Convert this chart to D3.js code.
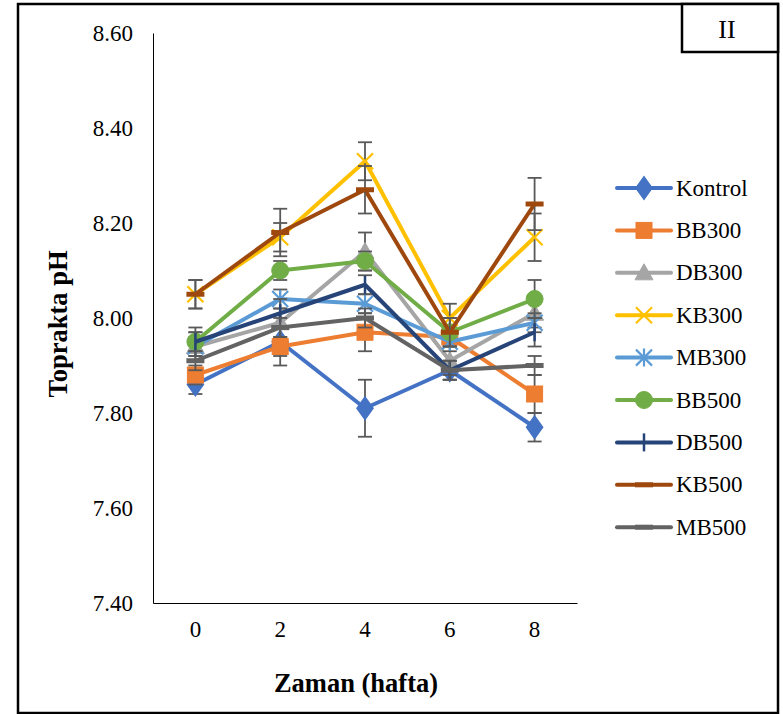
<!DOCTYPE html>
<html>
<head>
<meta charset="utf-8">
<script src="https://cdn.jsdelivr.net/npm/d3@7"></script>
<style>
  html, body { margin: 0; padding: 0; background: #fff; }
  svg { display: block; font-family: "Liberation Serif", "Times New Roman", serif; }
</style>
</head>
<body>
<svg id="chart" width="783" height="714"></svg>
<script>
// ---- Data ----
const categories = ["0", "2", "4", "6", "8"];
const yTicks = [7.4, 7.6, 7.8, 8.0, 8.2, 8.4, 8.6];
const seriesNames = ["Kontrol", "BB300", "DB300", "KB300", "MB300", "BB500", "DB500", "KB500", "MB500"];
const kontrol = [7.86, 7.95, 7.81, 7.89, 7.77];
const bb300   = [7.88, 7.94, 7.97, 7.96, 7.84];
const db300   = [7.94, 7.99, 8.14, 7.91, 8.01];
const kb300   = [8.05, 8.17, 8.33, 8.00, 8.17];
const mb300   = [7.94, 8.04, 8.03, 7.95, 7.99];
const bb500   = [7.95, 8.10, 8.12, 7.97, 8.04];
const db500   = [7.95, 8.01, 8.07, 7.89, 7.97];
const kb500   = [8.05, 8.18, 8.27, 7.97, 8.24];
const mb500   = [7.91, 7.98, 8.00, 7.89, 7.90];
const errKontrol = [0.02, 0.03, 0.06, 0.02, 0.03];
const errBB300   = [0.02, 0.04, 0.04, 0.02, 0.04];
const errDB300   = [0.03, 0.03, 0.04, 0.03, 0.03];
const errKB300   = [0.03, 0.03, 0.04, 0.03, 0.05];
const errMB300   = [0.02, 0.02, 0.02, 0.02, 0.02];
const errBB500   = [0.02, 0.02, 0.02, 0.03, 0.04];
const errDB500   = [0.03, 0.03, 0.02, 0.02, 0.03];
const errKB500   = [0.03, 0.05, 0.05, 0.03, 0.055];
const errMB500   = [0.02, 0.02, 0.02, 0.02, 0.02];

const seriesValues = [kontrol, bb300, db300, kb300, mb300, bb500, db500, kb500, mb500];
const seriesErrors = [errKontrol, errBB300, errDB300, errKB300, errMB300, errBB500, errDB500, errKB500, errMB500];
const colors = ["#4472C4", "#ED7D31", "#A5A5A5", "#FFC000", "#5B9BD5", "#70AD47", "#264478", "#9E480E", "#636363"];
const markers = ["diamond", "square", "triangle", "x", "star", "circle", "plus", "dash", "dash"];

const series = seriesNames.map((name, i) => ({
  name, color: colors[i], marker: markers[i],
  points: seriesValues[i].map((v, j) => ({ cat: categories[j], v, e: seriesErrors[i][j] }))
}));

// ---- Layout ----
const svg = d3.select("#chart");
const plot = { left: 153, right: 577, top: 33, bottom: 603 };

const x = d3.scaleBand().domain(categories).range([plot.left, plot.right]);
const y = d3.scaleLinear().domain([7.4, 8.6]).range([plot.bottom, plot.top]);
const cx = c => x(c) + x.bandwidth() / 2;

// Outer frame
svg.append("rect").attr("x", 18).attr("y", 4).attr("width", 760).attr("height", 709)
  .attr("fill", "none").attr("stroke", "#000").attr("stroke-width", 2.5);
// "II" box
svg.append("rect").attr("x", 682).attr("y", 4).attr("width", 96).attr("height", 48)
  .attr("fill", "#fff").attr("stroke", "#000").attr("stroke-width", 2.5);
svg.append("text").attr("x", 727).attr("y", 29).attr("text-anchor", "middle")
  .attr("dominant-baseline", "central").attr("font-size", 26).text("II");

// Axes
const yAxis = d3.axisLeft(y).tickValues(yTicks).tickFormat(d3.format(".2f")).tickSize(0).tickPadding(20);
const gy = svg.append("g").attr("transform", `translate(${plot.left},0)`).call(yAxis);
gy.select(".domain").attr("stroke", "#000").attr("stroke-width", 1);
gy.selectAll("text").attr("font-size", 23).attr("fill", "#000")
  .attr("font-family", "Liberation Serif, Times New Roman, serif");

const xAxis = d3.axisBottom(x).tickSize(0).tickPadding(18);
const gx = svg.append("g").attr("transform", `translate(0,${plot.bottom})`).call(xAxis);
gx.select(".domain").attr("stroke", "#000").attr("stroke-width", 1);
gx.selectAll("text").attr("font-size", 23).attr("fill", "#000")
  .attr("font-family", "Liberation Serif, Times New Roman, serif");

// Axis titles
svg.append("text").attr("x", 356).attr("y", 683).attr("text-anchor", "middle")
  .attr("dominant-baseline", "central").attr("font-size", 26.5).attr("font-weight", "bold")
  .text("Zaman (hafta)");
svg.append("text").attr("transform", "translate(58,324) rotate(-90)").attr("text-anchor", "middle")
  .attr("dominant-baseline", "central").attr("font-size", 26.5).attr("font-weight", "bold")
  .text("Toprakta pH");

// Marker drawing
function drawMarker(g, type, color, px, py, s) {
  s = s || 1;
  switch (type) {
    case "diamond":
      g.append("path").attr("d", d3.symbol(d3.symbolDiamond, 150 * s)())
        .attr("transform", `translate(${px},${py}) scale(1.25,1)`)
        .attr("fill", color).attr("stroke", color); break;
    case "square":
      g.append("rect").attr("x", px - 8).attr("y", py - 8).attr("width", 16).attr("height", 16)
        .attr("fill", color).attr("stroke", color); break;
    case "triangle":
      g.append("path").attr("d", `M${px},${py - 9} L${px + 9},${py + 7} L${px - 9},${py + 7} Z`)
        .attr("fill", color).attr("stroke", color); break;
    case "circle":
      g.append("circle").attr("cx", px).attr("cy", py).attr("r", 8.5).attr("fill", color).attr("stroke", color); break;
    case "x":
      g.append("path").attr("d", `M${px - 8},${py - 8} L${px + 8},${py + 8} M${px - 8},${py + 8} L${px + 8},${py - 8}`)
        .attr("stroke", color).attr("stroke-width", 2.2).attr("fill", "none"); break;
    case "star":
      g.append("path").attr("d", `M${px - 8},${py - 8} L${px + 8},${py + 8} M${px - 8},${py + 8} L${px + 8},${py - 8} M${px},${py - 9} L${px},${py + 9}`)
        .attr("stroke", color).attr("stroke-width", 2.2).attr("fill", "none"); break;
    case "plus":
      g.append("path").attr("d", `M${px},${py - 9} L${px},${py + 9}`)
        .attr("stroke", color).attr("stroke-width", 2.5).attr("fill", "none"); break;
    case "dash":
      g.append("path").attr("d", `M${px - 9},${py} L${px + 9},${py}`)
        .attr("stroke", color).attr("stroke-width", 5).attr("fill", "none"); break;
  }
}

// Series
const line = d3.line().x(d => cx(d.cat)).y(d => y(d.v));
series.forEach(s => {
  const g = svg.append("g");
  g.append("path").datum(s.points).attr("d", line)
    .attr("fill", "none").attr("stroke", s.color).attr("stroke-width", 4).attr("stroke-linejoin", "round");
  // error bars
  s.points.forEach(p => {
    const px = cx(p.cat), y1 = y(p.v + p.e), y2 = y(p.v - p.e);
    g.append("line").attr("x1", px).attr("x2", px).attr("y1", y1).attr("y2", y2)
      .attr("stroke", "#595959").attr("stroke-width", 1.8);
    [y1, y2].forEach(yy => g.append("line").attr("x1", px - 7).attr("x2", px + 7).attr("y1", yy).attr("y2", yy)
      .attr("stroke", "#595959").attr("stroke-width", 1.8));
  });
  s.points.forEach(p => drawMarker(g, s.marker, s.color, cx(p.cat), y(p.v)));
});

// Legend
const legend = svg.append("g");
series.forEach((s, i) => {
  const ly = 188 + i * 42.4;
  legend.append("line").attr("x1", 617).attr("x2", 671).attr("y1", ly).attr("y2", ly)
    .attr("stroke", s.color).attr("stroke-width", 4).attr("stroke-linecap", "round");
  drawMarker(legend, s.marker, s.color, 644, ly);
  legend.append("text").attr("x", 676).attr("y", ly).attr("dominant-baseline", "central")
    .attr("font-size", 23).text(s.name);
});
</script>
</body>
</html>
